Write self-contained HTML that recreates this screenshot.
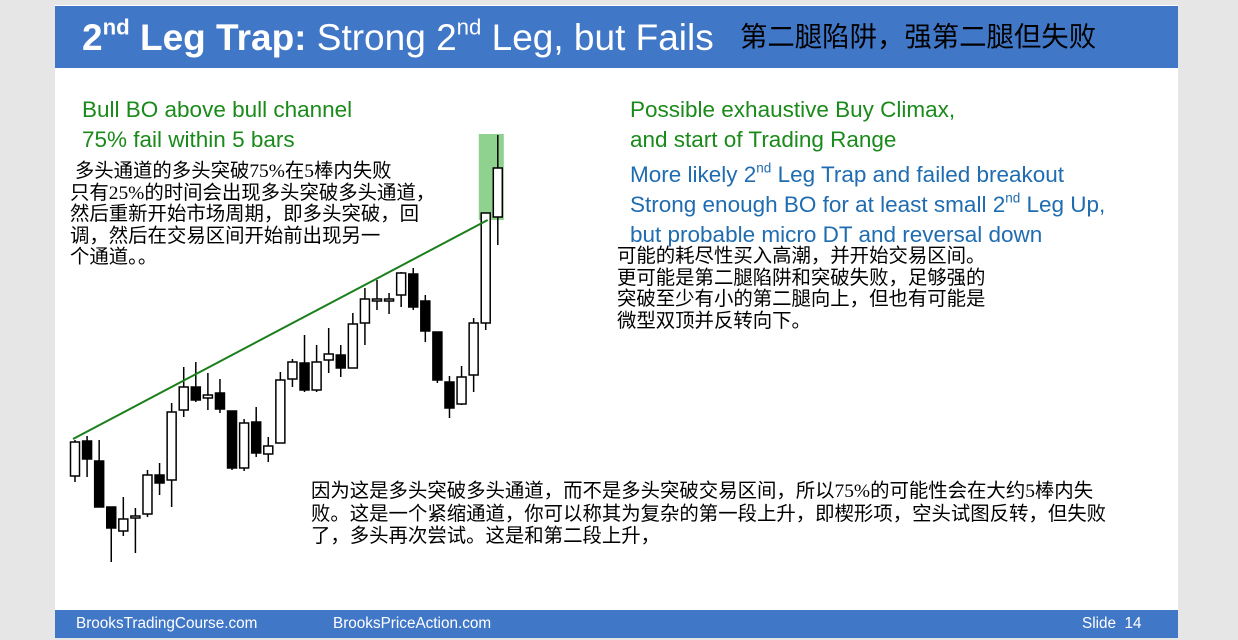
<!DOCTYPE html>
<html><head><meta charset="utf-8">
<style>
html,body{margin:0;padding:0;}
body{width:1238px;height:640px;background:#e6e6e6;position:relative;overflow:hidden;font-family:"Liberation Sans","Noto Sans CJK SC",sans-serif;}
#slide{position:absolute;left:55px;top:5px;width:1123px;height:633px;background:#fff;}
#header{position:absolute;left:55px;top:6px;width:1123px;height:62px;background:#4177c7;}
.t{position:absolute;white-space:nowrap;}
.en{font-family:"Liberation Sans",sans-serif;}
.green{color:#1a8a1a;font-size:22.5px;}
.blue{color:#1f6cb0;font-size:22.5px;}
.cn{color:#000;font-size:19.4px;font-family:"Liberation Serif","Noto Sans CJK SC",sans-serif;line-height:21.5px;}
#footer{position:absolute;left:55px;top:610px;width:1123px;height:28px;background:#4177c7;color:#fff;font-size:15.3px;}
sup{font-size:60%;line-height:0;vertical-align:0.7em;}
</style></head><body>
<div id="slide"></div>
<div id="header">
  <div class="t en" style="left:27px;top:11px;font-size:37px;color:#fff;"><b>2<sup>nd</sup> Leg Trap:</b> Strong 2<sup>nd</sup> Leg, but Fails</div>
  <div class="t" style="left:685px;top:8px;font-size:27.4px;color:#000;font-family:'Liberation Sans','Noto Sans CJK SC',sans-serif;">第二腿陷阱，强第二腿但失败</div>
</div>
<div class="t en green" style="left:82px;top:95px;line-height:30px;">Bull BO above bull channel<br>75% fail within 5 bars</div>
<div class="t cn" style="left:70px;top:161px;">&nbsp;多头通道的多头突破75%在5棒内失败<br>只有25%的时间会出现多头突破多头通道，<br>然后重新开始市场周期，即多头突破，回<br>调，然后在交易区间开始前出现另一<br>个通道。。</div>
<div class="t en green" style="left:630px;top:95px;line-height:30px;">Possible exhaustive Buy Climax,<br>and start of Trading Range</div>
<div class="t en blue" style="left:630px;top:160px;line-height:30px;">More likely 2<sup>nd</sup> Leg Trap and failed breakout<br>Strong enough BO for at least small 2<sup>nd</sup> Leg Up,<br>but probable micro DT and reversal down</div>
<div class="t cn" style="left:617px;top:246px;">可能的耗尽性买入高潮，并开始交易区间。<br>更可能是第二腿陷阱和突破失败，足够强的<br>突破至少有小的第二腿向上，但也有可能是<br>微型双顶并反转向下。</div>
<div class="t cn" style="left:311px;top:481px;line-height:22.5px;">因为这是多头突破多头通道，而不是多头突破交易区间，所以75%的可能性会在大约5棒内失<br>败。这是一个紧缩通道，你可以称其为复杂的第一段上升，即楔形项，空头试图反转，但失败<br>了，多头再次尝试。这是和第二段上升，</div>
<svg id="chart" width="1238" height="640" style="position:absolute;left:0;top:0;"></svg>
<div id="footer">
  <div class="t en" style="left:21px;top:5px;">BrooksTradingCourse.com</div>
  <div class="t en" style="left:278px;top:5px;">BrooksPriceAction.com</div>
  <div class="t en" style="left:1027px;top:5px;">Slide&nbsp; 14</div>
</div>
<script>
// price units: higher = up
const opens  = [124,159,139,93,69,82,86,125,120,190,213,202,207,189,132,178,146,157,221,237,210,240,245,232,277,301,301,305,326,299,268,218,196,225,277,383];
const closes = [158,141,93,72,81,84,125,117,188,213,200,205,191,132,177,147,154,220,238,210,238,246,232,276,301,301,301,327,293,269,220,192,223,277,387,432];
const highs  = [160,164,160,93,103,92,130,137,197,233,238,227,221,189,181,193,163,228,241,265,255,272,255,287,312,320,307,328,332,305,268,224,234,282,387,465];
const lows   = [118,123,93,38,64,47,83,105,93,183,198,190,187,130,129,143,138,157,213,208,208,227,223,232,255,290,286,293,290,258,217,182,195,208,270,355];
const trendStart = [0,161];
const trendEnd = [34,380];
const highlightBar = 35;
const svg = document.getElementById('chart');
const NS = 'http://www.w3.org/2000/svg';
const x0 = 75, dx = 12.08;
function xScale(i){return x0 + i*dx;}
function yScale(p){return 600 - p;}
const hl = document.createElementNS(NS,'rect');


hl.setAttribute('x', xScale(highlightBar)-19); hl.setAttribute('y', yScale(highs[highlightBar]+1));
hl.setAttribute('width', 25); hl.setAttribute('height', yScale(opens[highlightBar]-3)-yScale(highs[highlightBar]+1));
hl.setAttribute('fill', '#8fd18f');
svg.appendChild(hl);
for(let i=0;i<opens.length;i++){
  const g = document.createElementNS(NS,'g');
  
  
  const x = xScale(i);
  const w = document.createElementNS(NS,'line');
  w.setAttribute('x1',x);w.setAttribute('x2',x);
  w.setAttribute('y1',yScale(highs[i]));w.setAttribute('y2',yScale(lows[i]));
  w.setAttribute('stroke','#000');w.setAttribute('stroke-width','1.5');
  g.appendChild(w);
  const top = Math.max(opens[i],closes[i]), bot = Math.min(opens[i],closes[i]);
  const r = document.createElementNS(NS,'rect');
  r.setAttribute('x',x-4.5);r.setAttribute('width',9);
  r.setAttribute('y',yScale(top));r.setAttribute('height',Math.max(2,top-bot));
  r.setAttribute('fill', closes[i]<opens[i] ? '#000' : '#fff');
  r.setAttribute('stroke','#000');r.setAttribute('stroke-width','1.5');
  g.appendChild(r);
  svg.appendChild(g);
}
const tl = document.createElementNS(NS,'line');


tl.setAttribute('x1', xScale(trendStart[0])-2); tl.setAttribute('y1', yScale(trendStart[1]));
tl.setAttribute('x2', xScale(trendEnd[0])+2); tl.setAttribute('y2', yScale(trendEnd[1]));
tl.setAttribute('stroke','#1a7f1a'); tl.setAttribute('stroke-width','2');
svg.appendChild(tl);
</script>
</body></html>
